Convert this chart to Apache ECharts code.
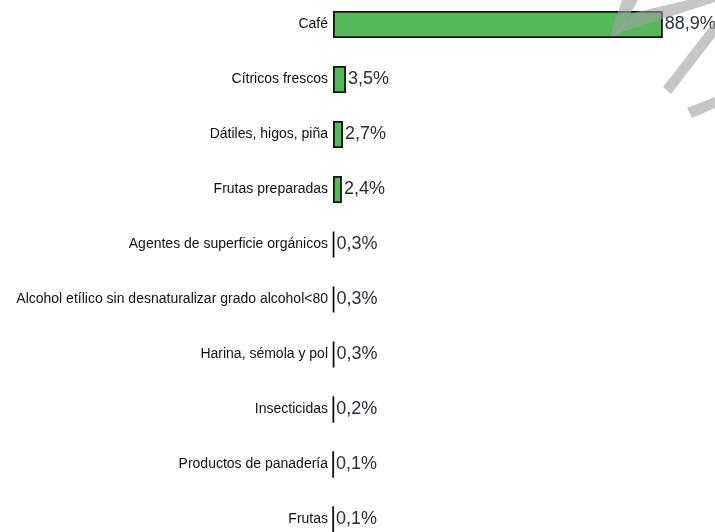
<!DOCTYPE html>
<html><head><meta charset="utf-8">
<script src="https://cdn.jsdelivr.net/npm/echarts@6/dist/echarts.min.js"></script>
<style>html,body{margin:0;padding:0;background:#fff;overflow:hidden}#c{position:absolute;left:0;top:-3px;width:715px;height:550px}</style>
</head><body><div id="c"></div>
<script>
const categories = ["Café","Cítricos frescos","Dátiles, higos, piña","Frutas preparadas","Agentes de superficie orgánicos","Alcohol etílico sin desnaturalizar grado alcohol<80","Harina, sémola y pol","Insecticidas","Productos de panadería","Frutas"];
const values = [88.9,3.5,2.7,2.4,0.3,0.3,0.3,0.2,0.1,0.1];

const wm = 'rgba(160,160,160,0.6)';
const chart = echarts.init(document.getElementById('c'));
chart.setOption({
  animation:false,
  grid:{left:333,right:11,top:0,bottom:0,containLabel:false},
  xAxis:{type:'value',min:0,max:100,show:false},
  yAxis:{type:'category',data:categories,inverse:true,
    axisLine:{show:false},axisTick:{show:false},splitLine:{show:false},
    axisLabel:{margin:5,color:'#111',fontFamily:'Liberation Sans, Arial',fontSize:14}},
  series:[{type:'bar',data:values,barWidth:27,
    itemStyle:{color:'#55b95a',borderColor:'#111',borderWidth:1.8},
    label:{show:true,position:'right',distance:2,color:'#2a2d3a',fontFamily:'Liberation Sans, Arial',fontSize:18,
      formatter:p=>p.value.toFixed(1).replace('.',',')+'%'}}],
  graphic:[
    {type:'polygon',z:100,silent:true,shape:{points:[[622,3],[638,3],[618,39],[610,39]]},style:{fill:wm}},
    {type:'polygon',z:100,silent:true,shape:{points:[[613,38],[633,16],[688,3],[715,3],[715,5]]},style:{fill:wm}},
    {type:'polygon',z:100,silent:true,shape:{points:[[663,90],[671,97],[715,40],[715,23]]},style:{fill:wm}},
    {type:'polygon',z:100,silent:true,shape:{points:[[687,111],[692,121],[715,111],[715,100]]},style:{fill:wm}}
  ]
});
</script></body></html>
